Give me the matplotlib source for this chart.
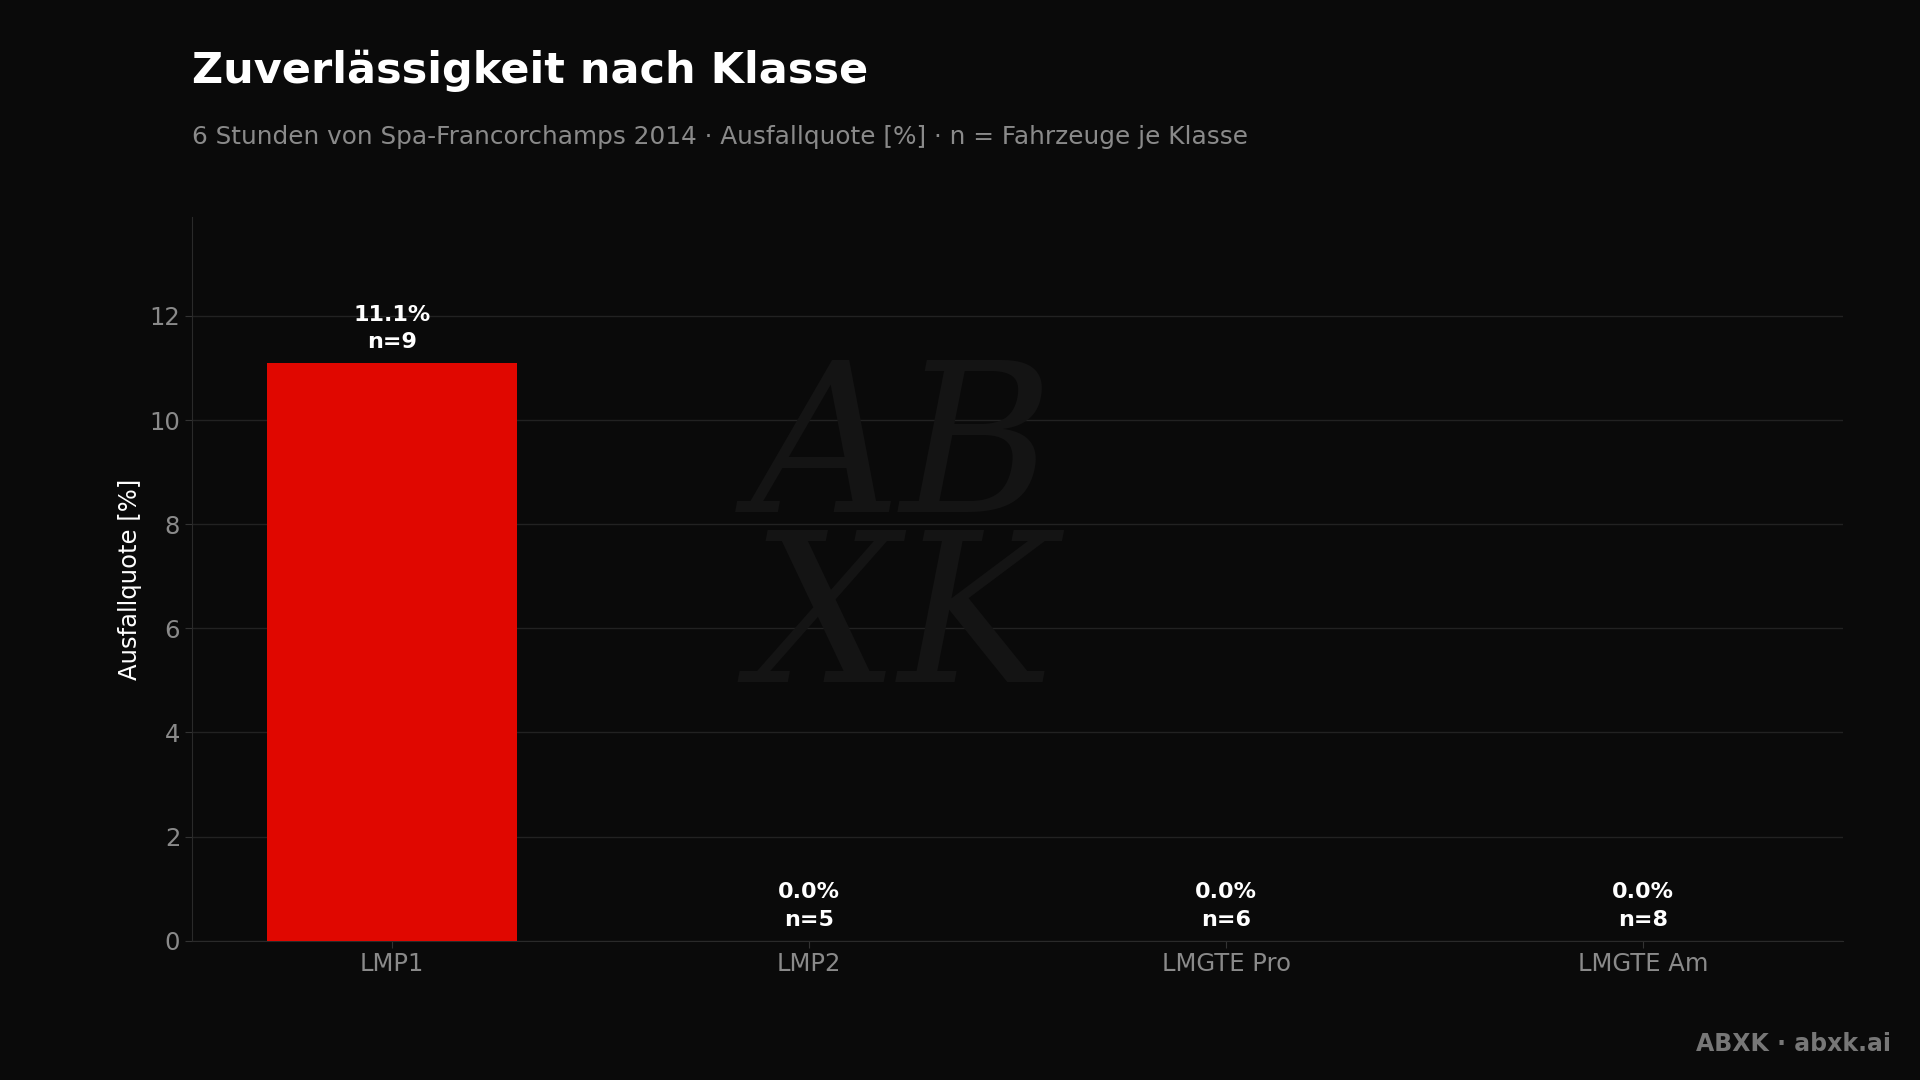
import matplotlib
matplotlib.use('Agg')
import matplotlib.pyplot as plt

klassen = ['LMP1', 'LMP2', 'LMGTE Pro', 'LMGTE Am']
ausfallquote = [11.1, 0.0, 0.0, 0.0]
fahrzeuge = [9, 5, 6, 8]

bg = '#0a0a0a'
fig = plt.figure(figsize=(19.2, 10.8), dpi=100, facecolor=bg)
ax = fig.add_axes([0.100, 0.129, 0.860, 0.670], facecolor=bg)

x = range(len(klassen))
ax.bar(x, ausfallquote, width=0.6, color='#e00700', zorder=3)
for i, (v, n) in enumerate(zip(ausfallquote, fahrzeuge)):
    ax.annotate(f'{v:.1f}%\nn={n}', (i, v), xytext=(0, 8), textcoords='offset points',
                ha='center', va='bottom', color='white', fontsize=16, fontweight='bold',
                linespacing=1.45, zorder=4)

ax.set_ylim(0, 13.9)
ax.set_xlim(-0.48, 3.48)
ax.set_xticks(list(x))
ax.set_xticklabels(klassen)
ax.set_yticks(range(0, 13, 2))
ax.tick_params(axis='x', colors='#333333', labelcolor='#8a8a8a', labelsize=17.5, length=5)
ax.tick_params(axis='y', colors='#333333', labelcolor='#8a8a8a', labelsize=17.5, length=5)
ax.grid(axis='y', color='#222222', linewidth=1, zorder=0)
for s in ['top', 'right']:
    ax.spines[s].set_visible(False)
for s in ['left', 'bottom']:
    ax.spines[s].set_color('#2a2a2a')
ax.set_ylabel('Ausfallquote [%]', color='white', fontsize=17.5, labelpad=5)

# Wasserzeichen
fig.text(0.47, 0.50, 'AB\nXK', color='#141414', fontsize=150, style='italic',
         ha='center', va='center', linespacing=0.8, zorder=0, family='DejaVu Serif')

fig.text(0.100, 0.934, 'Zuverlässigkeit nach Klasse', color='white', fontsize=31,
         fontweight='bold', va='center')
fig.text(0.100, 0.873, '6 Stunden von Spa-Francorchamps 2014 · Ausfallquote [%] · n = Fahrzeuge je Klasse',
         color='#8a8a8a', fontsize=17.8, va='center')
fig.text(0.985, 0.033, 'ABXK · abxk.ai', color='#777777', fontsize=17,
         fontweight='bold', ha='right', va='center')

fig.savefig('out.png', facecolor=bg)
